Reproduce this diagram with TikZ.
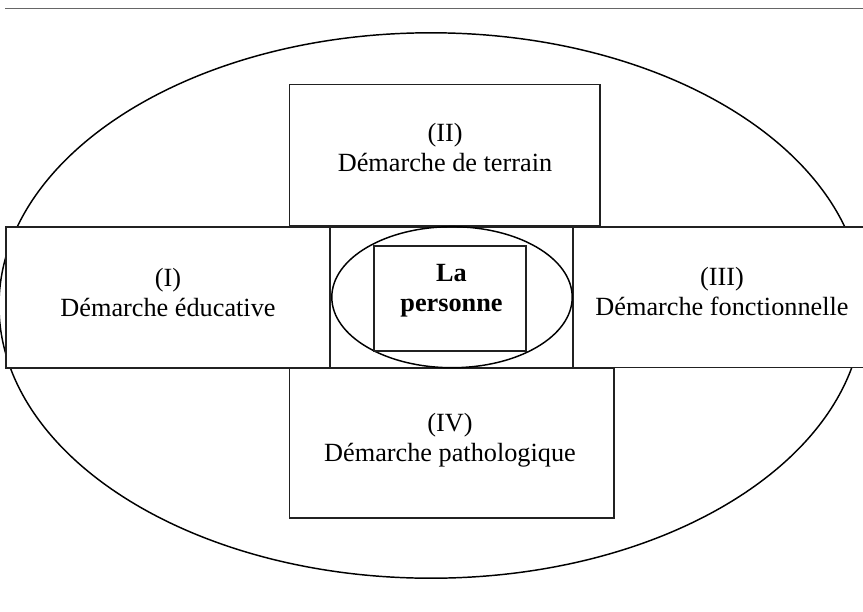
\documentclass[tikz,border=0pt]{standalone}
\usepackage{fontspec}
\setmainfont{Liberation Serif}
\usepackage{xcolor}

\tikzset{
  boite/.style={draw=black!87, line width=1.3pt, fill=white},
  rond/.style={draw=black, line width=1.1pt},
  texte/.style={align=center, inner sep=0pt, font=\fontsize{19.7}{22.5}\selectfont},
}

\begin{document}
\begin{tikzpicture}[x=0.75pt, y=-0.75pt]
                      \clip (0,0) rectangle (863,611);
                      \draw[black!60, line width=1.3pt] (5,8.5) -- (870,8.5);
                      \draw[rond] (431,305.5) ellipse [x radius=432, y radius=272.7];
                      % les quatre demarches
                      \draw[boite] (289.5,84.5) rectangle (600,225.5);
                      \draw[boite] (5.7,226.7) rectangle (330.3,367.7);
                      \draw[boite] (573.3,226.7) rectangle (870,367.5);
                      \draw[boite] (289.5,368.3) rectangle (614,518.3);
                      % centre
                      \draw[boite] (330.3,226.7) rectangle (573.3,367.7);
                      \draw[rond] (452,297.2) ellipse [x radius=120.2, y radius=70.5];
                      \draw[boite, fill=none] (374.3,246) rectangle (525.7,351);
                      \node[texte] (terrain) at (445,147.5) {(II)\\D\'emarche de terrain};
                      \node[texte] (educ) at (168,292.5) {(I)\\D\'emarche \'educative};
                      \node[texte] (fonct) at (722,291.5) {(III)\\D\'emarche fonctionnelle};
                      \node[texte] (patho) at (450,440.5) {(IV)\\D\'emarche pathologique};
                      \node[texte, font=\fontsize{19.7}{22.5}\selectfont\bfseries] (personne) at (451.5,290.5) {La\\personne};
                  \end{tikzpicture}
\end{document}
